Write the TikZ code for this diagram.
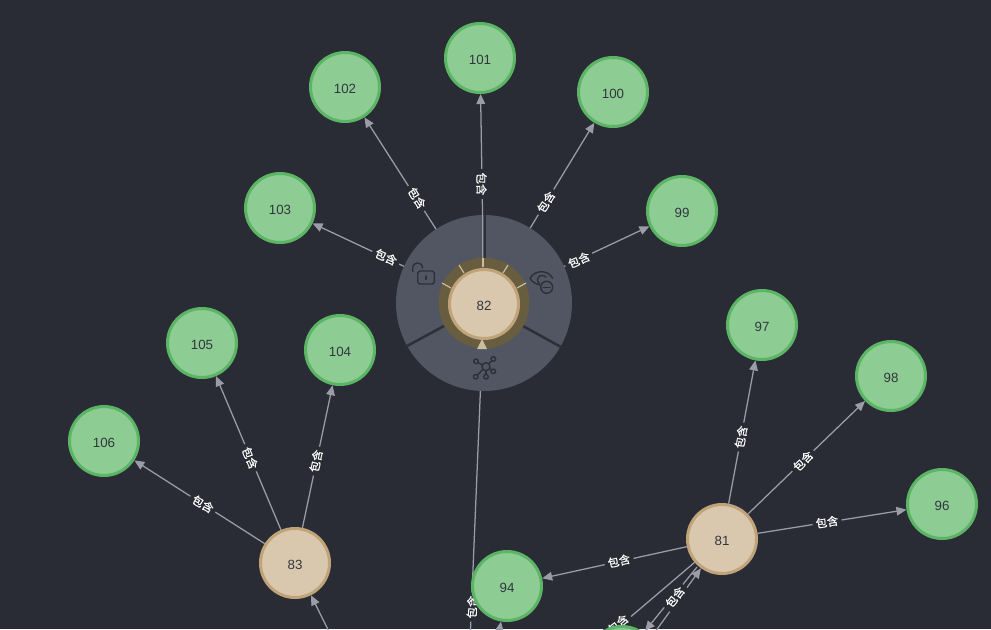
\documentclass[tikz,border=0pt]{standalone}
\usepackage{fontspec}
\setmainfont{Liberation Sans}
\newfontfamily\cjk[FakeBold=0.5]{Noto Sans CJK SC}
\usetikzlibrary{arrows.meta}
\pgfdeclarelayer{edgelayer}
\pgfdeclarelayer{menulayer}
\pgfdeclarelayer{toplayer}
\pgfsetlayers{edgelayer,main,menulayer,toplayer}
\definecolor{bgc}{HTML}{292C34}
\definecolor{edgec}{HTML}{9A9CA8}
\definecolor{gfill}{HTML}{8DCC93}
\definecolor{gline}{HTML}{5CB565}
\definecolor{bfill}{HTML}{D9C8AE}
\definecolor{bline}{HTML}{C0A378}
\definecolor{menuc}{HTML}{525663}
\definecolor{ringc}{HTML}{695D3F}
\definecolor{tickc}{HTML}{C9BD9F}
\definecolor{divc}{HTML}{2D3038}
\definecolor{txtc}{HTML}{33363F}
\newcommand{\nlab}[1]{\raisebox{-4.9pt}[0pt][0pt]{#1}}
\tikzset{
 x=0.75pt,y=-0.75pt,
 gnode/.style={circle,draw=gline,fill=gfill,line width=2.25pt,minimum size=51.75pt,inner sep=0pt,font=\fontsize{10pt}{12pt}\selectfont,text=txtc},
 bnode/.style={circle,draw=bline,fill=bfill,line width=2.25pt,minimum size=51.75pt,inner sep=0pt,font=\fontsize{10pt}{12pt}\selectfont,text=txtc},
 rel/.style={draw=edgec,line width=0.95pt,-{Triangle[length=7.5pt,width=6.5pt]}},
 plain/.style={draw=edgec,line width=0.95pt},
 lab/.style={fill=bgc,inner xsep=2.5pt,inner ysep=0.5pt,text=white,font=\cjk\fontsize{8.5pt}{9pt}\selectfont},
 icon/.style={draw=divc,line width=1.05pt,line cap=round,line join=round},
 divider/.style={draw=divc,line width=1.9pt},
 tick/.style={draw=tickc,line width=0.9pt},
}
\begin{document}
\begin{tikzpicture}
\useasboundingbox (0,0) rectangle (991,629);
\coordinate (f1) at (468,690);
\coordinate (f2) at (353,680);
\coordinate (f3) at (491,680);
\coordinate (f4) at (560,677);
\coordinate (a1) at (697,567);
\coordinate (a2) at (645,631);
\coordinate (b1) at (650,639);
% nodes
\node[gnode] (n101) at (480,58) {\nlab{101}};
\node[gnode] (n102) at (345,87) {\nlab{102}};
\node[gnode] (n100) at (613,92) {\nlab{100}};
\node[gnode] (n103) at (280,208) {\nlab{103}};
\node[gnode] (n99) at (682,211) {\nlab{99}};
\node[gnode] (n105) at (202,343) {\nlab{105}};
\node[gnode] (n104) at (340,350) {\nlab{104}};
\node[gnode] (n106) at (104,441) {\nlab{106}};
\node[gnode] (n97) at (762,325) {\nlab{97}};
\node[gnode] (n98) at (891,376) {\nlab{98}};
\node[gnode] (n96) at (942,504) {\nlab{96}};
\node[gnode] (n94) at (507,586) {\nlab{94}};
\node[gnode] (n95) at (622,661) {};
\node[bnode] (n83) at (295,563) {\nlab{83}};
\node[bnode] (n81) at (722,539) {\nlab{81}};
\begin{pgfonlayer}{toplayer}
\node[bnode] (n82) at (484,304) {\nlab{82}};
\end{pgfonlayer}
% edges
\begin{pgfonlayer}{edgelayer}
\fill[bgc] (0,0) rectangle (991,629);
\draw[rel] (n82) -- (n102);
\draw[rel] (n82) -- (n100);
\draw[rel] (n82) -- (n103);
\draw[rel] (n82) -- (n99);
\draw[rel] (n82) -- (n101);
\draw[rel] (n83) -- (n105);
\draw[rel] (n83) -- (n104);
\draw[rel] (n83) -- (n106);
\draw[rel] (n81) -- (n97);
\draw[rel] (n81) -- (n98);
\draw[rel] (n81) -- (n96);
\draw[rel] (n81) -- (n94);
\draw[rel] (f2) -- (n83);
\draw[rel] (f3) -- (n94);
\draw[plain] (n81) -- (f4);
\draw[rel] (a1) -- (a2);
\draw[rel] (b1) -- (n81);
\draw[rel] (f1) -- (n82);
\node[lab,rotate=-58] (l102) at (417,198) {包含};
\node[lab,rotate=58] (l100) at (546,202) {包含};
\node[lab,rotate=-24] (l103) at (386,257) {包含};
\node[lab,rotate=24] (l99) at (579,260) {包含};
\node[lab,rotate=-90] (l101) at (481.5,184) {包含};
\node[lab,rotate=-67] (l105) at (250,458) {包含};
\node[lab,rotate=78] (l104) at (316,461) {包含};
\node[lab,rotate=-30] (l106) at (203,504) {包含};
\node[lab,rotate=80] (l97) at (741,437) {包含};
\node[lab,rotate=46] (l98) at (803,461) {包含};
\node[lab,rotate=9] (l96) at (827,522) {包含};
\node[lab,rotate=13] (l94) at (619,561) {包含};
\node[lab,rotate=40] (l95) at (618,624) {包含};
\node[lab,rotate=52] (l81) at (675,597) {包含};
\node[lab,rotate=88] (l82) at (472,607) {包含};
\end{pgfonlayer}
% radial menu
\begin{pgfonlayer}{menulayer}
\fill[menuc] (484,303) circle[radius=88];
\draw[divider] (444,326) -- (407,346);
\draw[divider] (523,326) -- (561,347);
\draw[divider] (484.8,258) -- (484.8,215);
\draw[plain] (482.4,215) -- (482.4,262);
\fill[ringc] (484,303) circle[radius=45.5];
\draw[tick] (483,258) -- (483,267);
\draw[tick] (459,265) -- (464,273);
\draw[tick] (508,265) -- (503,273);
\draw[tick] (442,283) -- (451,288);
\draw[tick] (526,283) -- (517,288);
\fill[tickc] (482,339) -- (487,349) -- (477,349) -- cycle;
% unlock icon
\draw[icon] (419.5,271) -- (432.5,271) .. controls (433.7,271) and (434.3,271.6) .. (434.3,272.8) -- (434.3,282.2) .. controls (434.3,283.4) and (433.7,284) .. (432.5,284) -- (419.5,284) .. controls (418.3,284) and (417.7,283.4) .. (417.7,282.2) -- (417.7,272.8) .. controls (417.7,271.6) and (418.3,271) .. (419.5,271);
\draw[icon] (426,276) -- (426,279.5);
\draw[icon] (412.7,271.5) -- (412.7,268) .. controls (412.7,261.5) and (422.3,261) .. (422.6,268);
% eye icon
\draw[icon] (540,285) .. controls (535,284) and (532,281.5) .. (530,278.3) .. controls (535,269.5) and (548,269.5) .. (552.7,278.3);
\draw[icon] (546,277) .. controls (542,273.5) and (537,276) .. (537.5,281) .. controls (537.7,282.5) and (538.5,283.3) .. (539.5,283.8);
\draw[icon] (546.7,287.3) circle[radius=6];
\draw[icon] (543.3,287.3) -- (550.1,287.3);
% network icon
\draw[icon] (486,366.7) circle[radius=4];
\draw[icon] (476,361.3) circle[radius=2.3];
\draw[icon] (493.3,359) circle[radius=2.3];
\draw[icon] (493.3,371.3) circle[radius=2.3];
\draw[icon] (486,376.7) circle[radius=2.3];
\draw[icon] (475.7,376.7) circle[radius=2.3];
\draw[icon] (478,362.4) -- (482.4,365);
\draw[icon] (491.8,360.6) -- (488.8,363.8);
\draw[icon] (491.2,370.5) -- (489.8,368);
\draw[icon] (486,374.4) -- (486,370.7);
\draw[icon] (477.3,375) -- (483,369.4);
\end{pgfonlayer}
\end{tikzpicture}
\end{document}
